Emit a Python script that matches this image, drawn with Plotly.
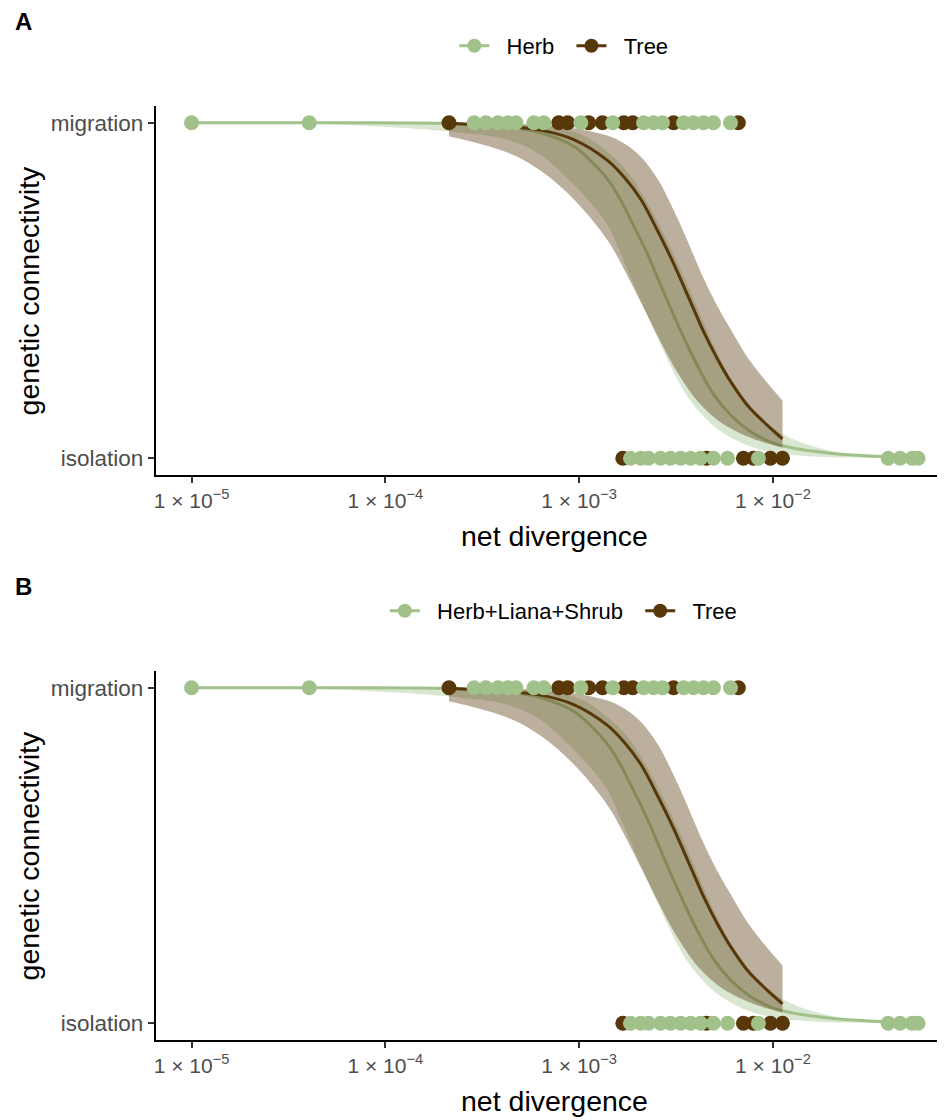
import plotly.graph_objects as go

# ---------------- data ----------------
# observed points: genetic connectivity (1 = migration, 0 = isolation)
herb_mig_x = [1.00e-5, 4.05e-5, 2.87e-4, 3.30e-4, 3.81e-4, 4.29e-4, 4.72e-4, 5.84e-4, 6.57e-4,
              1.02e-3, 1.49e-3, 2.15e-3, 2.42e-3, 2.69e-3, 3.46e-3, 3.89e-3, 4.38e-3, 4.93e-3, 6.04e-3]
tree_mig_x = [2.13e-4, 7.85e-4, 8.73e-4, 1.12e-3, 1.32e-3, 1.70e-3, 1.89e-3, 3.07e-3, 6.63e-3]
herb_iso_x = [1.84e-3, 2.08e-3, 2.28e-3, 2.63e-3, 2.96e-3, 3.34e-3, 3.76e-3, 4.23e-3, 4.93e-3,
              5.83e-3, 8.41e-3, 3.93e-2, 4.53e-2, 5.22e-2, 5.61e-2]
tree_iso_x = [1.68e-3, 4.54e-3, 7.04e-3, 7.93e-3, 9.70e-3, 1.12e-2]

# fitted curve (logistic) + confidence band, herb group
herb_fit_x = [1.00e-5, 4.05e-5, 2.13e-4, 4.29e-4, 6.34e-4, 9.38e-4, 1.15e-3, 1.40e-3, 1.64e-3,
              1.91e-3, 2.25e-3, 2.63e-3, 3.07e-3, 3.62e-3, 4.23e-3, 4.93e-3, 6.04e-3, 7.65e-3,
              9.70e-3, 1.23e-2, 1.98e-2, 3.17e-2, 5.61e-2]
herb_fit = [1.000, 1.000, 0.998, 0.988, 0.970, 0.930, 0.886, 0.832, 0.769, 0.693, 0.609, 0.517,
            0.427, 0.336, 0.258, 0.191, 0.129, 0.080, 0.049, 0.032, 0.015, 0.007, 0.003]
herb_lo = [0.9994, 0.998, 0.974, 0.949, 0.904, 0.815, 0.760, 0.696, 0.608, 0.520, 0.426, 0.339,
           0.257, 0.184, 0.135, 0.097, 0.062, 0.035, 0.019, 0.0105, 0.003, 0.001, 0.0003]
herb_hi = [1.000, 1.000, 1.000, 0.997, 0.991, 0.973, 0.950, 0.913, 0.876, 0.829, 0.761, 0.688,
           0.608, 0.517, 0.426, 0.338, 0.239, 0.153, 0.097, 0.060, 0.022, 0.0074, 0.0022]

# fitted curve (logistic) + confidence band, tree group
tree_fit_x = [2.13e-4, 4.29e-4, 6.34e-4, 9.38e-4, 1.40e-3, 1.70e-3, 2.08e-3, 2.57e-3, 2.96e-3,
              3.42e-3, 3.89e-3, 4.38e-3, 5.17e-3, 6.04e-3, 7.38e-3, 9.36e-3, 1.12e-2]
tree_fit = [0.998, 0.990, 0.978, 0.950, 0.888, 0.839, 0.772, 0.672, 0.600, 0.520, 0.446, 0.378,
            0.296, 0.229, 0.158, 0.098, 0.058]
tree_lo = [0.960, 0.911, 0.857, 0.772, 0.650, 0.565, 0.465, 0.359, 0.291, 0.231, 0.185, 0.151,
           0.114, 0.089, 0.065, 0.044, 0.032]
tree_hi = [0.9993, 0.997, 0.993, 0.984, 0.962, 0.939, 0.899, 0.828, 0.759, 0.681, 0.606, 0.537,
           0.453, 0.385, 0.301, 0.224, 0.172]

y_tickvals = [0, 1]
y_ticktext = ["isolation", "migration"]
x_tickvals = [1e-5, 1e-4, 1e-3, 1e-2]
x_ticktext = ["1 × 10<sup>−5</sup>", "1 × 10<sup>−4</sup>",
              "1 × 10<sup>−3</sup>", "1 × 10<sup>−2</sup>"]
panel_tags = ["A", "B"]
herb_labels = ["Herb", "Herb+Liana+Shrub"]
tree_label = "Tree"

# ---------------- styling ----------------
HERB = "#A1C18B"
TREE = "#583709"
HERB_FILL = "rgba(161,193,139,0.4)"
TREE_FILL = "rgba(88,55,9,0.4)"
FONT = "Liberation Sans, Arial, Helvetica, sans-serif"
OFF = 8              # page body margin in the browser
W, H = 945 - OFF, 1120 - OFF
LEAD = "\u00a0\u00a0"  # gap between legend key and its label
TAIL = "\u00a0\u00a0"  # gap after first legend entry


def fx(px):
    return (px - OFF) / W


def fy(py):
    return 1 - (py - OFF) / H


fig = go.Figure()
SM = 1.0


def add_panel(idx, herb_label, legend_name):
    xa = "x" if idx == 0 else "x2"
    ya = "y" if idx == 0 else "y2"
    common = dict(xaxis=xa, yaxis=ya, hoverinfo="skip")
    # herb ribbon + line
    fig.add_trace(go.Scatter(x=herb_fit_x, y=herb_lo, mode="lines",
                             line=dict(width=0, shape="spline", smoothing=SM),
                             showlegend=False, **common))
    fig.add_trace(go.Scatter(x=herb_fit_x, y=herb_hi, mode="lines", fill="tonexty",
                             fillcolor=HERB_FILL,
                             line=dict(width=0, shape="spline", smoothing=SM),
                             showlegend=False, **common))
    fig.add_trace(go.Scatter(x=herb_fit_x, y=herb_fit, mode="lines",
                             line=dict(color=HERB, width=3, shape="spline", smoothing=SM),
                             showlegend=False, **common))
    # tree ribbon + line
    fig.add_trace(go.Scatter(x=tree_fit_x, y=tree_lo, mode="lines",
                             line=dict(width=0, shape="spline", smoothing=SM),
                             showlegend=False, **common))
    fig.add_trace(go.Scatter(x=tree_fit_x, y=tree_hi, mode="lines", fill="tonexty",
                             fillcolor=TREE_FILL,
                             line=dict(width=0, shape="spline", smoothing=SM),
                             showlegend=False, **common))
    fig.add_trace(go.Scatter(x=tree_fit_x, y=tree_fit, mode="lines",
                             line=dict(color=TREE, width=3, shape="spline", smoothing=SM),
                             showlegend=False, **common))
    # points: tree first, herb on top
    px = tree_mig_x + tree_iso_x + herb_mig_x + herb_iso_x
    py = ([1] * len(tree_mig_x) + [0] * len(tree_iso_x)
          + [1] * len(herb_mig_x) + [0] * len(herb_iso_x))
    pc = [TREE] * (len(tree_mig_x) + len(tree_iso_x)) + [HERB] * (len(herb_mig_x) + len(herb_iso_x))
    fig.add_trace(go.Scatter(x=px, y=py, mode="markers",
                             marker=dict(color=pc, size=15, line=dict(width=0)),
                             showlegend=False, **common))
    # legend entries
    fig.add_trace(go.Scatter(x=[None], y=[None], mode="lines+markers",
                             name=LEAD + herb_label + TAIL,
                             line=dict(color=HERB, width=3), marker=dict(color=HERB, size=14),
                             legend=legend_name, xaxis=xa, yaxis=ya))
    fig.add_trace(go.Scatter(x=[None], y=[None], mode="lines+markers", name=LEAD + tree_label,
                             line=dict(color=TREE, width=3), marker=dict(color=TREE, size=14),
                             legend=legend_name, xaxis=xa, yaxis=ya))


add_panel(0, herb_labels[0], "legend")
add_panel(1, herb_labels[1], "legend2")

# panel geometry in reference pixels (top, bottom)
x_dom = [fx(154), min(1.0, fx(940))]
panels_px = [(106, 475), (671, 1040)]

xaxis_style = dict(type="log", range=[-5.185, -1.138], tickvals=x_tickvals, ticktext=x_ticktext,
                   showgrid=False, zeroline=False, showline=True, linecolor="black", linewidth=1.8,
                   ticks="outside", ticklen=6, tickwidth=1.5, tickcolor="#333333",
                   tickfont=dict(size=21, color="#4D4D4D", family=FONT), domain=x_dom)
yaxis_style = dict(range=[-0.05, 1.05], tickvals=y_tickvals, ticktext=y_ticktext,
                   showgrid=False, zeroline=False, showline=True, linecolor="black", linewidth=1.8,
                   ticks="outside", ticklen=6, tickwidth=1.5, tickcolor="#333333",
                   tickfont=dict(size=22.5, color="#4D4D4D", family=FONT))

legend_common = dict(orientation="h", xanchor="center", yanchor="middle",
                     font=dict(size=22, color="black", family=FONT), bgcolor="rgba(0,0,0,0)",
                     itemwidth=30, tracegroupgap=0, traceorder="normal")

annotations = []
for i, (top, bottom) in enumerate(panels_px):
    annotations.append(dict(text="<b>" + panel_tags[i] + "</b>", x=fx(11), y=fy(top - 85),
                            xref="paper", yref="paper", xanchor="left", yanchor="middle",
                            showarrow=False, font=dict(size=24, family=FONT, color="black")))
    annotations.append(dict(text="net divergence", x=fx(554), y=fy(bottom + 61),
                            xref="paper", yref="paper", xanchor="center", yanchor="middle",
                            showarrow=False, font=dict(size=28.5, family=FONT, color="black")))
    annotations.append(dict(text="genetic connectivity", x=fx(27), y=fy((top + bottom) / 2),
                            xref="paper", yref="paper", xanchor="center", yanchor="middle",
                            textangle=-90, showarrow=False,
                            font=dict(size=28.5, family=FONT, color="black")))

fig.update_layout(
    width=W, height=H,
    margin=dict(l=0, r=0, t=0, b=0),
    paper_bgcolor="white", plot_bgcolor="white",
    font=dict(family=FONT),
    xaxis=dict(**xaxis_style, anchor="y"),
    yaxis=dict(**yaxis_style, domain=[fy(panels_px[0][1]), fy(panels_px[0][0])], anchor="x"),
    xaxis2=dict(**xaxis_style, anchor="y2"),
    yaxis2=dict(**yaxis_style, domain=[fy(panels_px[1][1]), fy(panels_px[1][0])], anchor="x2"),
    legend=dict(**legend_common, x=fx(563), y=fy(46)),
    legend2=dict(**legend_common, x=fx(563), y=fy(611)),
    annotations=annotations,
    showlegend=True,
)

fig.write_html("out.html")
